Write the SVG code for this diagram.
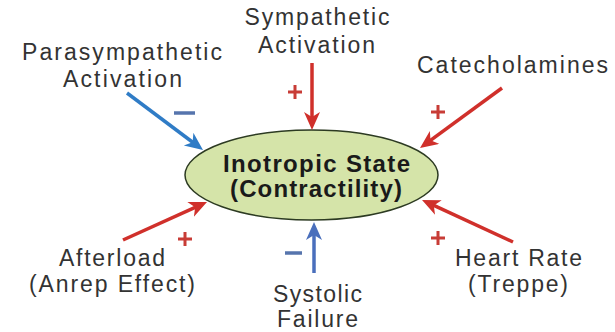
<svg xmlns="http://www.w3.org/2000/svg" width="615" height="332" viewBox="0 0 615 332">
<style>
.lbl{font-family:"Liberation Sans",Arial,sans-serif;font-size:23px;fill:#333;text-anchor:middle}
.main{font-family:"Liberation Sans",Arial,sans-serif;font-size:24px;font-weight:bold;fill:#1a1a1a;text-anchor:middle}
.red{stroke:#d0302b;stroke-width:3.5;fill:none}
.blue{stroke:#2f7cc6;stroke-width:3.5;fill:none}
.blue2{stroke:#4a6fbc;stroke-width:3.5;fill:none}
.plus{stroke:#c83c36;stroke-width:3;fill:none}
.minus{stroke:#5674ad;stroke-width:3.5;fill:none}
</style>
<defs>
<marker id="ahR" markerUnits="userSpaceOnUse" markerWidth="20" markerHeight="18" refX="8" refY="8" orient="auto"><path d="M0,0 L18,8 L0,16 L5,8 z" fill="#d0302b"/></marker>
<marker id="ahB" markerUnits="userSpaceOnUse" markerWidth="20" markerHeight="18" refX="8" refY="8" orient="auto"><path d="M0,0 L18,8 L0,16 L5,8 z" fill="#2f7cc6"/></marker>
<marker id="ahB2" markerUnits="userSpaceOnUse" markerWidth="20" markerHeight="18" refX="8" refY="8" orient="auto"><path d="M0,0 L18,8 L0,16 L5,8 z" fill="#4a6fbc"/></marker>
</defs>
<rect width="615" height="332" fill="#fff"/>
<g id="center">
<ellipse cx="311.5" cy="175" rx="126.5" ry="45" fill="#d5e4a9" stroke="#2c3a22" stroke-width="1.5"/>
<text class="main" x="316.5" y="172" textLength="187" lengthAdjust="spacing">Inotropic State</text>
<text class="main" x="316" y="197" textLength="172" lengthAdjust="spacing">(Contractility)</text>
</g>
<g id="connectors">
<line class="blue" x1="127" y1="93" x2="195" y2="144" marker-end="url(#ahB)"/>
<line class="red" x1="312" y1="63" x2="312" y2="120" marker-end="url(#ahR)"/>
<line class="red" x1="502" y1="88" x2="428.1" y2="142.1" marker-end="url(#ahR)"/>
<line class="red" x1="123" y1="240" x2="197.9" y2="206.1" marker-end="url(#ahR)"/>
<line class="blue2" x1="314" y1="273" x2="314" y2="232" marker-end="url(#ahB2)"/>
<line class="red" x1="513" y1="242" x2="431.1" y2="204.2" marker-end="url(#ahR)"/>
<path class="minus" d="M174,113 H195"/>
<path class="plus" d="M288,92 H302 M295,85 V99"/>
<path class="plus" d="M431,112 H445 M438,105 V119"/>
<path class="plus" d="M178,239 H192 M185,232 V246"/>
<path class="minus" d="M285,253 H302"/>
<path class="plus" d="M431,238 H445 M438,231 V245"/>
</g>
<g id="parasympathetic">
<text class="lbl" x="122" y="60" textLength="200" lengthAdjust="spacing">Parasympathetic</text>
<text class="lbl" x="122.5" y="87" textLength="119" lengthAdjust="spacing">Activation</text>
</g>
<g id="sympathetic">
<text class="lbl" x="317" y="25" textLength="145" lengthAdjust="spacing">Sympathetic</text>
<text class="lbl" x="316.5" y="53" textLength="117" lengthAdjust="spacing">Activation</text>
</g>
<g id="catecholamines">
<text class="lbl" x="512.5" y="73" textLength="191" lengthAdjust="spacing">Catecholamines</text>
</g>
<g id="afterload">
<text class="lbl" x="112" y="266" textLength="106" lengthAdjust="spacing">Afterload</text>
<text class="lbl" x="112" y="292" textLength="166" lengthAdjust="spacing">(Anrep Effect)</text>
</g>
<g id="systolic">
<text class="lbl" x="317.5" y="302" textLength="89" lengthAdjust="spacing">Systolic</text>
<text class="lbl" x="317.5" y="327" textLength="81" lengthAdjust="spacing">Failure</text>
</g>
<g id="heartrate">
<text class="lbl" x="518.5" y="266" textLength="127" lengthAdjust="spacing">Heart Rate</text>
<text class="lbl" x="518" y="292" textLength="100" lengthAdjust="spacing">(Treppe)</text>
</g>
</svg>
